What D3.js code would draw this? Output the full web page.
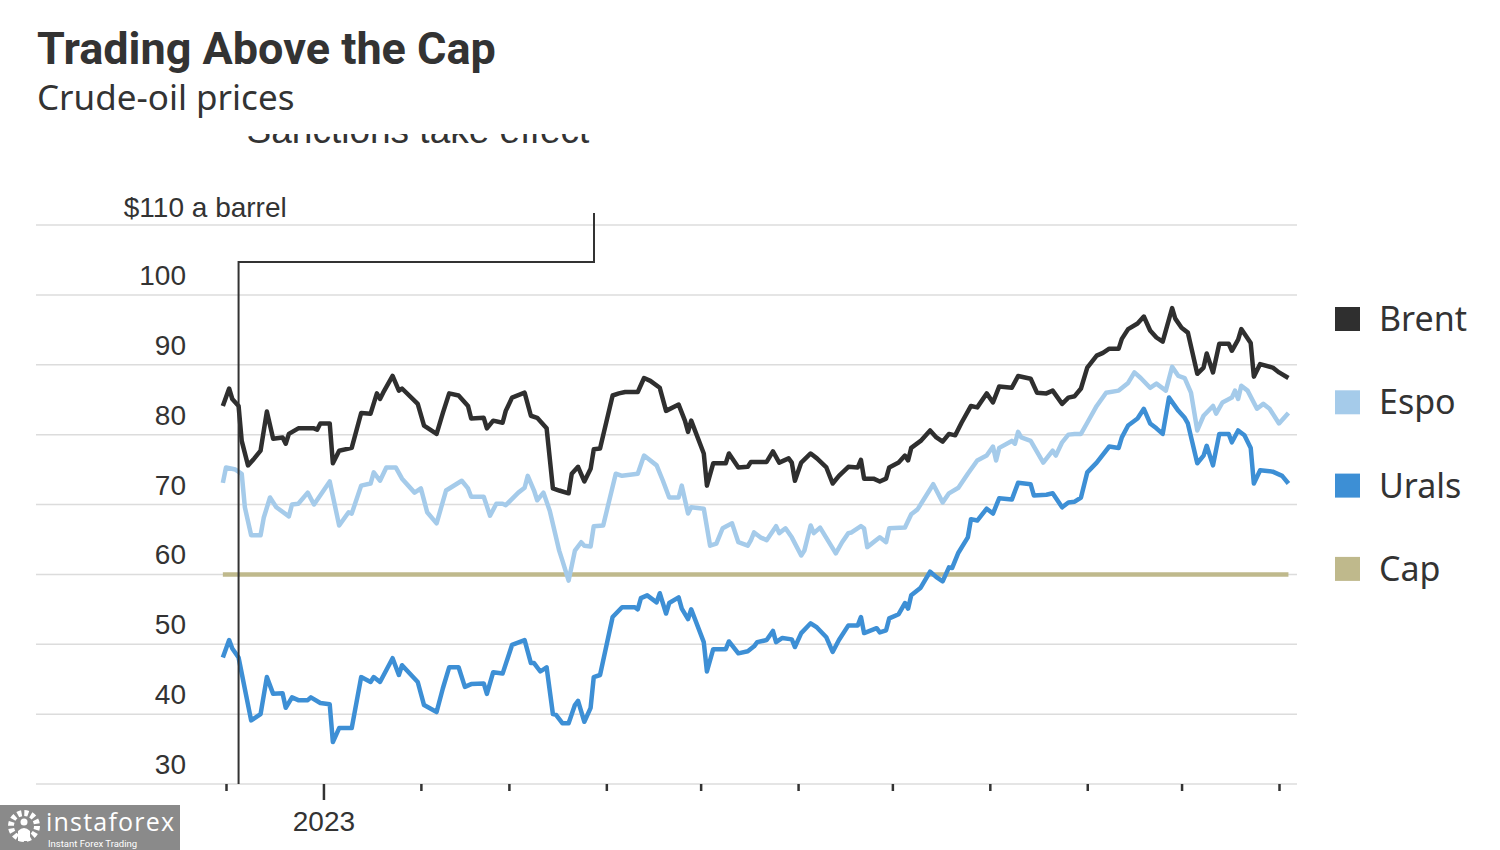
<!DOCTYPE html>
<html>
<head>
<meta charset="utf-8">
<script src="https://cdn.jsdelivr.net/npm/d3@7"></script>
<style>
  html, body { margin: 0; padding: 0; background: #fff; }
  svg { display: block; }
</style>
</head>
<body>
<svg id="chart" width="1500" height="850"></svg>
<script>
// ---------------- DATA ----------------
const title = "Trading Above the Cap";
const subtitle = "Crude-oil prices";
const annotationText = "Sanctions take effect";
const sanctionsDate = "2022-12-05";
const yTicks = [30, 40, 50, 60, 70, 80, 90, 100, 110];
const yTopLabel = ["$110", " a barrel"];
const xYearLabel = "2023";
const seriesNames = ["Brent", "Espo", "Urals", "Cap"];
const seriesColors = ["#2f2f2f", "#a5cbea", "#3d8fd5", "#bfb98c"];

const brent = [["2022-11-30",84.1],["2022-12-02",86.6],["2022-12-03",85.1],["2022-12-05",84.1],["2022-12-06",79.1],["2022-12-08",75.6],["2022-12-10",76.6],["2022-12-12",77.7],["2022-12-14",83.3],["2022-12-16",79.4],["2022-12-19",79.6],["2022-12-20",78.7],["2022-12-21",80.1],["2022-12-24",80.9],["2022-12-29",80.9],["2022-12-30",80.7],["2022-12-31",81.6],["2023-01-03",81.6],["2023-01-04",75.9],["2023-01-06",77.7],["2023-01-10",78.1],["2023-01-13",83.1],["2023-01-16",83.0],["2023-01-18",85.9],["2023-01-19",85.1],["2023-01-20",86.0],["2023-01-23",88.4],["2023-01-25",86.3],["2023-01-26",86.6],["2023-01-31",84.4],["2023-02-02",81.3],["2023-02-06",80.1],["2023-02-08",83.1],["2023-02-10",85.9],["2023-02-13",85.6],["2023-02-16",84.1],["2023-02-17",82.3],["2023-02-21",82.4],["2023-02-22",80.9],["2023-02-24",82.0],["2023-02-27",81.7],["2023-02-28",83.4],["2023-03-02",85.3],["2023-03-06",86.0],["2023-03-08",82.7],["2023-03-10",82.4],["2023-03-13",80.9],["2023-03-15",72.3],["2023-03-17",72.0],["2023-03-20",71.6],["2023-03-21",74.4],["2023-03-23",75.4],["2023-03-25",73.3],["2023-03-27",75.1],["2023-03-28",77.9],["2023-03-30",78.0],["2023-04-03",85.6],["2023-04-05",85.9],["2023-04-07",86.1],["2023-04-11",86.1],["2023-04-13",88.1],["2023-04-15",87.7],["2023-04-18",86.7],["2023-04-20",83.4],["2023-04-24",84.3],["2023-04-26",82.0],["2023-04-27",80.4],["2023-04-28",82.0],["2023-05-02",77.3],["2023-05-03",72.7],["2023-05-05",75.9],["2023-05-09",75.9],["2023-05-10",77.3],["2023-05-13",75.3],["2023-05-16",75.4],["2023-05-17",76.1],["2023-05-22",76.1],["2023-05-24",77.6],["2023-05-26",76.0],["2023-05-29",76.6],["2023-05-30",76.0],["2023-05-31",73.4],["2023-06-02",76.0],["2023-06-05",77.3],["2023-06-07",76.6],["2023-06-10",75.3],["2023-06-12",73.0],["2023-06-14",74.1],["2023-06-17",75.4],["2023-06-20",75.3],["2023-06-21",76.4],["2023-06-22",73.7],["2023-06-25",73.7],["2023-06-27",73.3],["2023-06-29",73.7],["2023-06-30",75.3],["2023-07-03",76.0],["2023-07-05",77.0],["2023-07-06",76.3],["2023-07-07",78.1],["2023-07-10",79.1],["2023-07-13",80.6],["2023-07-15",79.6],["2023-07-17",79.0],["2023-07-19",80.1],["2023-07-21",79.9],["2023-07-23",81.7],["2023-07-26",84.1],["2023-07-28",83.9],["2023-07-31",85.9],["2023-08-02",84.6],["2023-08-04",86.9],["2023-08-08",86.7],["2023-08-10",88.4],["2023-08-14",88.0],["2023-08-16",86.0],["2023-08-19",85.9],["2023-08-21",86.3],["2023-08-24",84.4],["2023-08-26",85.3],["2023-08-28",85.5],["2023-08-30",86.6],["2023-09-01",89.6],["2023-09-04",91.3],["2023-09-06",91.7],["2023-09-08",92.3],["2023-09-11",92.3],["2023-09-12",93.7],["2023-09-14",95.1],["2023-09-17",95.9],["2023-09-19",96.9],["2023-09-21",94.9],["2023-09-23",93.9],["2023-09-25",93.3],["2023-09-28",98.1],["2023-09-29",96.6],["2023-10-01",95.3],["2023-10-03",94.6],["2023-10-06",88.7],["2023-10-08",89.6],["2023-10-09",91.6],["2023-10-11",88.9],["2023-10-13",93.0],["2023-10-16",93.0],["2023-10-17",92.0],["2023-10-19",93.6],["2023-10-20",95.1],["2023-10-23",93.1],["2023-10-24",88.3],["2023-10-26",90.1],["2023-10-30",89.6],["2023-11-01",88.9],["2023-11-04",88.1]];

const espo = [["2022-11-30",73.1],["2022-12-01",75.3],["2022-12-04",75.0],["2022-12-06",74.4],["2022-12-07",69.6],["2022-12-09",65.6],["2022-12-12",65.6],["2022-12-13",68.1],["2022-12-15",71.0],["2022-12-17",69.6],["2022-12-21",68.3],["2022-12-22",70.0],["2022-12-24",70.1],["2022-12-27",71.7],["2022-12-29",70.0],["2023-01-03",73.3],["2023-01-06",67.0],["2023-01-09",68.9],["2023-01-10",68.7],["2023-01-13",72.7],["2023-01-16",73.0],["2023-01-17",74.6],["2023-01-19",73.4],["2023-01-21",75.3],["2023-01-24",75.3],["2023-01-26",73.7],["2023-01-30",71.7],["2023-02-01",72.3],["2023-02-03",68.9],["2023-02-06",67.3],["2023-02-09",72.0],["2023-02-14",73.4],["2023-02-16",72.3],["2023-02-17",71.1],["2023-02-21",71.1],["2023-02-23",68.4],["2023-02-25",70.1],["2023-02-27",70.1],["2023-02-28",69.9],["2023-03-04",71.7],["2023-03-06",72.4],["2023-03-07",74.1],["2023-03-09",72.0],["2023-03-10",70.6],["2023-03-12",71.7],["2023-03-14",69.1],["2023-03-17",63.4],["2023-03-18",62.0],["2023-03-20",59.1],["2023-03-22",63.4],["2023-03-24",64.6],["2023-03-25",64.1],["2023-03-27",64.0],["2023-03-28",66.9],["2023-03-31",67.0],["2023-04-04",74.4],["2023-04-06",74.1],["2023-04-11",74.4],["2023-04-13",77.0],["2023-04-17",75.6],["2023-04-19",73.4],["2023-04-21",71.0],["2023-04-24",71.0],["2023-04-25",72.7],["2023-04-27",68.7],["2023-04-28",69.6],["2023-05-02",69.4],["2023-05-04",64.1],["2023-05-06",64.4],["2023-05-08",66.6],["2023-05-11",67.3],["2023-05-13",64.6],["2023-05-16",64.1],["2023-05-17",64.9],["2023-05-18",66.0],["2023-05-20",65.3],["2023-05-22",64.9],["2023-05-25",66.9],["2023-05-26",65.9],["2023-05-28",66.6],["2023-05-30",65.3],["2023-06-02",62.7],["2023-06-03",63.4],["2023-06-05",67.0],["2023-06-06",65.9],["2023-06-08",66.7],["2023-06-13",63.0],["2023-06-15",64.6],["2023-06-17",65.9],["2023-06-18",66.0],["2023-06-21",66.9],["2023-06-22",66.6],["2023-06-23",63.9],["2023-06-27",65.3],["2023-06-29",64.6],["2023-06-30",66.6],["2023-07-05",66.7],["2023-07-07",68.6],["2023-07-09",69.3],["2023-07-14",72.9],["2023-07-17",70.3],["2023-07-19",71.6],["2023-07-22",72.4],["2023-07-25",74.4],["2023-07-28",76.3],["2023-07-31",77.0],["2023-08-02",78.3],["2023-08-03",76.3],["2023-08-04",78.1],["2023-08-08",79.1],["2023-08-09",78.7],["2023-08-10",80.4],["2023-08-11",79.6],["2023-08-14",79.1],["2023-08-18",76.0],["2023-08-21",77.7],["2023-08-22",77.0],["2023-08-24",78.9],["2023-08-26",80.0],["2023-08-28",80.1],["2023-08-30",80.1],["2023-09-01",81.7],["2023-09-04",84.1],["2023-09-07",86.0],["2023-09-11",86.3],["2023-09-14",87.4],["2023-09-16",88.9],["2023-09-18",88.1],["2023-09-21",86.7],["2023-09-23",87.3],["2023-09-26",86.3],["2023-09-28",89.7],["2023-09-30",88.4],["2023-10-02",88.1],["2023-10-04",86.0],["2023-10-06",80.6],["2023-10-08",82.7],["2023-10-11",84.1],["2023-10-12",83.0],["2023-10-14",84.6],["2023-10-17",85.3],["2023-10-18",86.3],["2023-10-19",85.1],["2023-10-20",87.0],["2023-10-22",86.3],["2023-10-25",83.7],["2023-10-27",84.4],["2023-10-29",83.7],["2023-11-01",81.6],["2023-11-04",83.1]];

const urals = [["2022-11-30",48.1],["2022-12-02",50.6],["2022-12-03",49.4],["2022-12-05",48.1],["2022-12-09",39.1],["2022-12-12",40.0],["2022-12-14",45.3],["2022-12-16",42.9],["2022-12-19",43.0],["2022-12-20",40.9],["2022-12-22",42.4],["2022-12-24",42.0],["2022-12-27",42.0],["2022-12-28",42.4],["2022-12-31",41.6],["2023-01-03",41.4],["2023-01-04",36.0],["2023-01-06",38.0],["2023-01-10",38.0],["2023-01-13",45.3],["2023-01-16",44.6],["2023-01-17",45.3],["2023-01-19",44.6],["2023-01-23",48.0],["2023-01-25",45.6],["2023-01-26",47.0],["2023-01-31",44.6],["2023-02-02",41.3],["2023-02-06",40.3],["2023-02-08",43.7],["2023-02-10",46.7],["2023-02-13",46.7],["2023-02-15",43.9],["2023-02-17",44.3],["2023-02-21",44.4],["2023-02-22",42.9],["2023-02-24",46.0],["2023-02-27",45.8],["2023-03-02",49.9],["2023-03-06",50.6],["2023-03-08",47.3],["2023-03-09",47.3],["2023-03-11",46.1],["2023-03-13",46.7],["2023-03-15",40.0],["2023-03-16",39.9],["2023-03-18",38.7],["2023-03-20",38.7],["2023-03-22",41.3],["2023-03-23",41.9],["2023-03-25",38.9],["2023-03-27",40.9],["2023-03-28",45.3],["2023-03-30",45.6],["2023-04-03",53.9],["2023-04-06",55.3],["2023-04-10",55.3],["2023-04-11",55.0],["2023-04-12",56.6],["2023-04-14",57.0],["2023-04-17",56.0],["2023-04-18",57.3],["2023-04-20",54.4],["2023-04-21",55.9],["2023-04-24",56.7],["2023-04-25",55.1],["2023-04-27",53.6],["2023-04-28",55.0],["2023-05-02",50.3],["2023-05-03",46.1],["2023-05-05",49.3],["2023-05-09",49.3],["2023-05-10",50.4],["2023-05-13",48.7],["2023-05-16",49.0],["2023-05-18",49.7],["2023-05-19",50.3],["2023-05-22",50.6],["2023-05-24",51.9],["2023-05-25",50.3],["2023-05-27",50.9],["2023-05-30",50.7],["2023-05-31",49.6],["2023-06-02",51.6],["2023-06-05",53.0],["2023-06-07",52.4],["2023-06-10",51.0],["2023-06-12",48.9],["2023-06-14",50.6],["2023-06-17",52.7],["2023-06-20",52.7],["2023-06-21",53.9],["2023-06-22",51.6],["2023-06-26",52.3],["2023-06-27",51.7],["2023-06-29",52.0],["2023-06-30",53.7],["2023-07-03",54.3],["2023-07-05",55.9],["2023-07-06",55.1],["2023-07-07",57.0],["2023-07-10",58.1],["2023-07-13",60.4],["2023-07-15",59.6],["2023-07-17",59.0],["2023-07-19",61.0],["2023-07-20",60.9],["2023-07-22",63.1],["2023-07-25",65.3],["2023-07-26",67.9],["2023-07-28",67.7],["2023-07-31",69.4],["2023-08-02",68.7],["2023-08-04",70.9],["2023-08-08",70.7],["2023-08-10",73.1],["2023-08-14",72.9],["2023-08-15",71.3],["2023-08-19",71.4],["2023-08-21",71.6],["2023-08-24",69.6],["2023-08-26",70.3],["2023-08-28",70.4],["2023-08-30",71.0],["2023-09-01",74.6],["2023-09-04",76.0],["2023-09-08",78.3],["2023-09-11",78.1],["2023-09-12",79.6],["2023-09-14",81.3],["2023-09-17",82.3],["2023-09-19",83.7],["2023-09-21",81.6],["2023-09-23",80.9],["2023-09-25",80.1],["2023-09-27",85.3],["2023-09-30",83.4],["2023-10-02",82.4],["2023-10-03",81.6],["2023-10-06",75.9],["2023-10-08",77.0],["2023-10-09",78.4],["2023-10-11",75.6],["2023-10-13",80.1],["2023-10-16",80.1],["2023-10-17",78.9],["2023-10-19",80.6],["2023-10-21",79.9],["2023-10-23",78.1],["2023-10-24",73.0],["2023-10-26",74.9],["2023-10-30",74.7],["2023-11-02",74.1],["2023-11-04",73.0]];

const cap = [["2022-11-30",60],["2023-11-04",60]];

const xDomain = ["2022-12-01", "2023-11-01"];
const yDomain = [30, 110];

// ---------------- CHART ----------------
const parse = d3.utcParse("%Y-%m-%d");
const svg = d3.select("#chart");

const x = d3.scaleUtc().domain(xDomain.map(parse)).range([226, 1279]);
const y = d3.scaleLinear().domain(yDomain).range([784, 225]);

const textColor = "#333";
const axisFont = "'Liberation Sans', Arimo, Arial, sans-serif";

// Title
svg.append("text").attr("x", 37).attr("y", 64)
  .attr("font-family", "Roboto, 'Noto Sans', sans-serif").attr("font-weight", 700)
  .attr("font-size", 45).attr("fill", textColor).text(title);
svg.append("text").attr("x", 37).attr("y", 110)
  .attr("font-family", "'Noto Sans', 'Open Sans', sans-serif")
  .attr("font-size", 35).attr("fill", textColor).text(subtitle);

// Clip for the cut-off annotation text
svg.append("defs").append("clipPath").attr("id", "plotclip")
  .append("rect").attr("x", 0).attr("y", 134).attr("width", 1500).attr("height", 716);

// Gridlines
svg.append("g").selectAll("line").data(yTicks).join("line")
  .attr("x1", 36).attr("x2", 1297)
  .attr("y1", d => y(d)).attr("y2", d => y(d))
  .attr("stroke", "#dcdcdc").attr("stroke-width", 1.5);

// Y labels
const yl = svg.append("g").attr("font-family", axisFont).attr("font-size", 28).attr("fill", textColor);
yl.selectAll("text.num").data(yTicks.filter(d => d !== 110)).join("text")
  .attr("class", "num").attr("x", 186).attr("y", d => y(d) - 10)
  .attr("text-anchor", "end").text(d => d);
yl.append("text").attr("x", 184).attr("y", y(110) - 8).attr("text-anchor", "end").text(yTopLabel[0]);
yl.append("text").attr("x", 184).attr("y", y(110) - 8).attr("xml:space", "preserve").text(yTopLabel[1]);

// X axis ticks
const months = d3.utcMonth.range(parse(xDomain[0]), d3.utcDay.offset(parse(xDomain[1]), 1));
const xAxis = d3.axisBottom(x).tickValues(months)
  .tickSize(0).tickFormat(d => d.getUTCMonth() === 0 ? xYearLabel : "");
const gx = svg.append("g").attr("transform", "translate(0,784)").call(xAxis);
gx.select(".domain").remove();
gx.selectAll(".tick line")
  .attr("y2", d => d.getUTCMonth() === 0 ? 16 : 7)
  .attr("stroke", "#333").attr("stroke-width", 2.5);
gx.selectAll(".tick text")
  .attr("y", 47).attr("dy", 0)
  .attr("font-family", axisFont).attr("font-size", 28).attr("fill", textColor);

// Lines
const line = d3.line().x(d => x(parse(d[0]))).y(d => y(d[1]));
const order = [[cap, 3], [urals, 2], [espo, 1], [brent, 0]];
svg.append("g").selectAll("path").data(order).join("path")
  .attr("d", d => line(d[0]))
  .attr("fill", "none")
  .attr("stroke", d => seriesColors[d[1]])
  .attr("stroke-width", 4.5)
  .attr("stroke-linejoin", "round")
  .attr("stroke-linecap", "butt");

// Annotation (sanctions)
const sx = x(parse(sanctionsDate));
const ann = svg.append("g");
ann.append("path")
  .attr("d", `M${sx},784 V262 H594 V213`)
  .attr("fill", "none").attr("stroke", "#333").attr("stroke-width", 2);
ann.append("text").attr("clip-path", "url(#plotclip)")
  .attr("x", 418).attr("y", 143).attr("text-anchor", "middle")
  .attr("font-family", axisFont).attr("font-size", 37).attr("fill", textColor)
  .text(annotationText);

// Legend
const lg = svg.append("g").selectAll("g").data(seriesNames).join("g")
  .attr("transform", (d, i) => `translate(1335,${307 + i * 83.3})`);
lg.append("rect").attr("width", 25).attr("height", 24).attr("fill", (d, i) => seriesColors[i]);
lg.append("text").attr("x", 44).attr("y", 24)
  .attr("font-family", "'Noto Sans', 'Open Sans', sans-serif")
  .attr("font-size", 34).attr("fill", textColor).text(d => d);

// Watermark
const wm = svg.append("g");
wm.append("rect").attr("x", 0).attr("y", 805).attr("width", 180).attr("height", 45).attr("fill", "#8a8a8a");
wm.append("circle").attr("cx", 24).attr("cy", 826).attr("r", 13)
  .attr("fill", "none").attr("stroke", "#fff").attr("stroke-width", 6).attr("stroke-dasharray", "4 2.8");
wm.append("circle").attr("cx", 24).attr("cy", 822).attr("r", 3.5).attr("fill", "#fff");
wm.append("path").attr("d", "M18,841 V831 Q24,825 30,831 V841").attr("fill", "#fff");
wm.append("text").attr("x", 46).attr("y", 831).attr("font-family", "'Open Sans', 'Noto Sans', sans-serif")
  .attr("font-size", 25).attr("fill", "#fff").attr("textLength", 128).text("instaforex");
wm.append("text").attr("x", 48).attr("y", 847).attr("font-family", "Roboto, sans-serif")
  .attr("font-size", 9.5).attr("fill", "#fff").text("Instant Forex Trading");
</script>
</body>
</html>
